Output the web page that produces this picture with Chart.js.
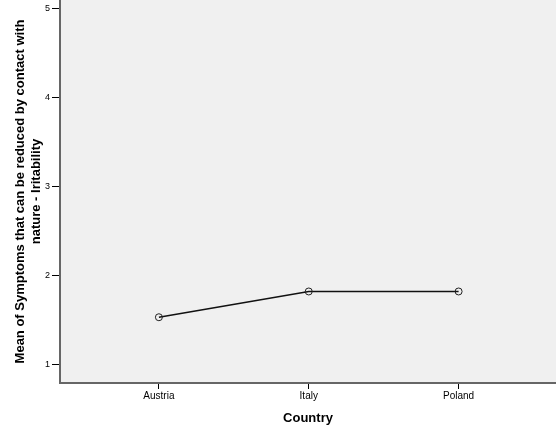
<!DOCTYPE html>
<html>
<head>
<meta charset="utf-8">
<script src="https://cdn.jsdelivr.net/npm/chart.js@4"></script>
<style>
  html, body { margin: 0; padding: 0; background: #fff; }
  #wrap { width: 556px; height: 435px; }
</style>
</head>
<body>
<div id="wrap"><canvas id="myChart"></canvas></div>
<script>
// country means
const countries = ['Austria', 'Italy', 'Poland'];
const means = [1.53, 1.82, 1.82];
const yTicks = [1, 2, 3, 4, 5];

const plotBg = {
  id: 'plotBg',
  beforeDraw(chart) {
    const { ctx, chartArea: a } = chart;
    ctx.save();
    ctx.fillStyle = '#f0f0f0';
    ctx.fillRect(a.left, a.top, a.right - a.left, a.bottom - a.top);
    ctx.restore();
  },
};

const data = {
  datasets: [
    {
      data: means.map((v, i) => ({ x: i, y: v })),
      borderColor: '#111',
      borderWidth: 1.4,
      pointRadius: 3.5,
      pointBorderWidth: 1,
      pointBorderColor: '#222',
      pointBackgroundColor: 'rgba(0,0,0,0)',
      tension: 0,
    },
  ],
};

const config = {
  type: 'line',
  data: data,
  plugins: [plotBg],
  options: {
    responsive: true,
    maintainAspectRatio: false,
    animation: false,
    layout: { autoPadding: false, padding: 0 },
    plugins: { legend: { display: false }, tooltip: { enabled: false } },
    scales: {
      x: {
        type: 'linear',
        min: -0.66,
        max: 2.65,
        afterBuildTicks: axis => {
          axis.ticks = countries.map((c, i) => ({ value: i }));
        },
        afterFit: axis => {
          axis.height = 52;
          axis.paddingLeft = 0;
          axis.paddingRight = 0;
        },
        ticks: {
          callback: v => countries[v],
          color: '#000',
          font: { family: 'Liberation Sans, Arial', size: 10 },
          padding: 1,
          maxRotation: 0,
        },
        grid: { drawOnChartArea: false, tickLength: 6, color: '#000', tickWidth: 1 },
        border: { color: '#666', width: 2 },
        title: {
          display: true,
          text: 'Country',
          color: '#000',
          font: { family: 'Liberation Sans, Arial', size: 13, weight: 'bold' },
          padding: { top: 0, bottom: 9 },
        },
      },
      y: {
        min: 0.79,
        max: 5.1,
        afterBuildTicks: axis => {
          axis.ticks = yTicks.map(v => ({ value: v }));
        },
        afterFit: axis => {
          axis.width = 60;
          axis.paddingTop = 0;
          axis.paddingBottom = 0;
        },
        ticks: {
          color: '#000',
          font: { family: 'Liberation Sans, Arial', size: 9 },
          padding: 2,
        },
        grid: { drawOnChartArea: false, tickLength: 8, color: '#000', tickWidth: 1 },
        border: { color: '#666', width: 2 },
        title: {
          display: true,
          text: ['Mean of Symptoms that can be reduced by contact with', 'nature - Iritability'],
          color: '#000',
          font: { family: 'Liberation Sans, Arial', size: 13, weight: 'bold', lineHeight: 1.25 },
          padding: { top: 12 },
        },
      },
    },
  },
};
const myChart = new Chart(document.getElementById('myChart'), config);
</script>
</body>
</html>
